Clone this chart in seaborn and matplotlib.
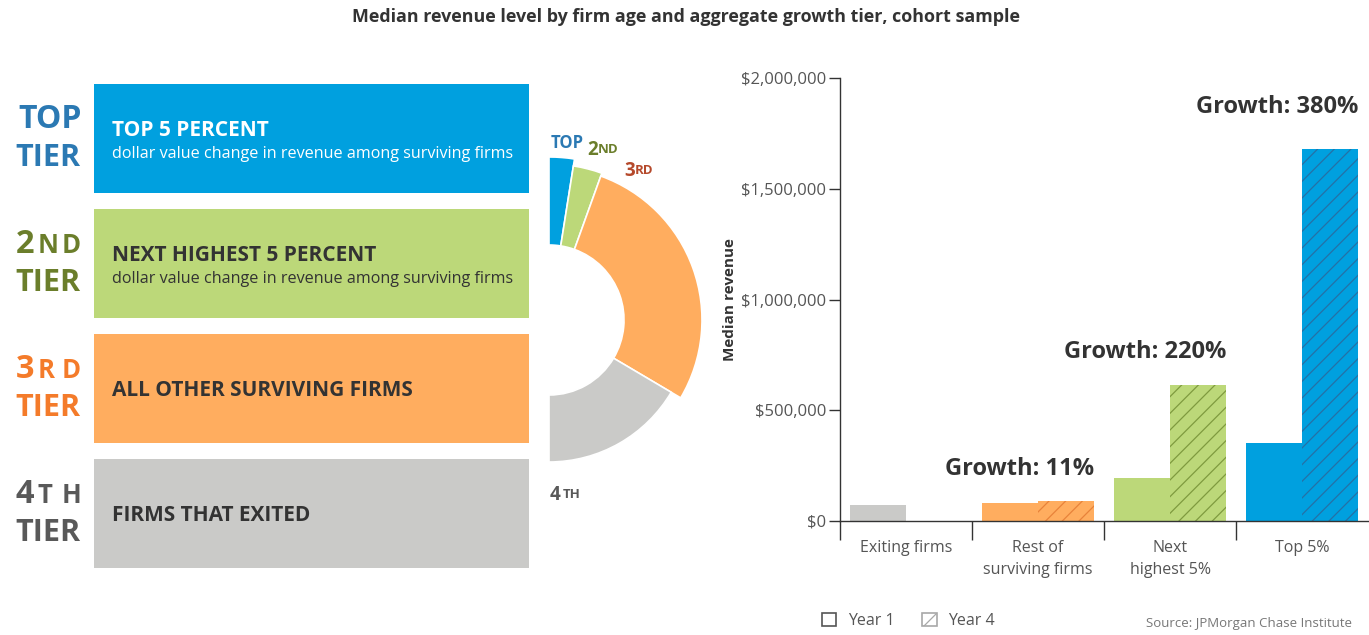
import matplotlib
matplotlib.use("Agg")
import matplotlib.pyplot as plt
from matplotlib.patches import Rectangle, Patch
import numpy as np
import pandas as pd
import seaborn as sns

# ---------------- data ----------------
title = "Median revenue level by firm age and aggregate growth tier, cohort sample"
categories = ["Exiting firms", "Rest of\nsurviving firms", "Next\nhighest 5%", "Top 5%"]
year1 = [70000, 82000, 192000, 350000]
year4 = [0, 91000, 615000, 1680000]
growth_labels = ["", "Growth: 11%", "Growth: 220%", "Growth: 380%"]
years = ["Year 1", "Year 4"]
yticks = [0, 500000, 1000000, 1500000, 2000000]
ytick_labels = ["$0", "$500,000", "$1,000,000", "$1,500,000", "$2,000,000"]

donut_labels = ["TOP", "2ND", "3RD", "4TH"]
donut_shares = [5, 6, 56, 33]

tier_main = ["TOP", "2", "3", "4"]
tier_sup = ["", "ND", "RD", "TH"]
box_titles = ["TOP 5 PERCENT", "NEXT HIGHEST 5 PERCENT", "ALL OTHER SURVIVING FIRMS", "FIRMS THAT EXITED"]
box_subs = ["dollar value change in revenue among surviving firms",
            "dollar value change in revenue among surviving firms", "", ""]
source = "Source: JPMorgan Chase Institute"

# ---------------- style ----------------
BLUE, GREEN, ORANGE, GRAY = "#00A0DF", "#BCD879", "#FFAD5F", "#CACAC8"
bar_colors = [GRAY, ORANGE, GREEN, BLUE]
hatch_colors = ["#A0A0A0", "#E8823A", "#7F9B3F", "#2571A6"]
tier_colors = ["#2B79B3", "#6B7E2B", "#F47B2A", "#595959"]
donut_text_colors = ["#2B79B3", "#6B7E2B", "#B5492B", "#595959"]
box_colors = [BLUE, GREEN, ORANGE, GRAY]
box_text_colors = ["white", "#333333", "#333333", "#333333"]
DARK = "#333333"
MID = "#555555"

sns.set_theme(style="white")
plt.rcParams["font.family"] = ["Open Sans", "DejaVu Sans"]
plt.rcParams["hatch.linewidth"] = 0.9

W, H = 1369, 635
fig = plt.figure(figsize=(W / 100, H / 100), dpi=100)

# background pixel-space axes for the infographic panel
bg = fig.add_axes([0, 0, 1, 1])
bg.set_xlim(0, W)
bg.set_ylim(H, 0)
bg.axis("off")

bg.text(686, 17, title, ha="center", va="center", fontsize=12.9, weight="bold", color=DARK)

box_tops = [84, 209, 334, 459]
box_h = 109
for i in range(4):
    top = box_tops[i]
    bg.add_patch(Rectangle((94, top), 435, box_h, facecolor=box_colors[i], edgecolor="none"))
    tc = box_text_colors[i]
    if box_subs[i]:
        bg.text(112, top + 52, box_titles[i], fontsize=15, weight="bold", color=tc, va="baseline")
        bg.text(112, top + 74, box_subs[i], fontsize=11.6, color=tc, va="baseline")
    else:
        bg.text(112, top + 62, box_titles[i], fontsize=15, weight="bold", color=tc, va="baseline")
    # tier labels
    col = tier_colors[i]
    if tier_sup[i]:
        bg.text(34, top + 44, tier_main[i], ha="right", va="baseline", fontsize=23.5,
                weight="bold", color=col)
        # letter-spaced smaller caps
        bg.text(38, top + 44, tier_sup[i][0], ha="left", va="baseline", fontsize=18.5,
                weight="bold", color=col)
        bg.text(81, top + 44, tier_sup[i][1], ha="right", va="baseline", fontsize=18.5,
                weight="bold", color=col)
    else:
        bg.text(82, top + 44, tier_main[i], ha="right", va="baseline", fontsize=23,
                weight="bold", color=col)
    bg.text(81, top + 82, "TIER", ha="right", va="baseline", fontsize=22, weight="bold", color=col)

# ---------------- donut ----------------
cx, cy, R = 549, 320, 170
dax = fig.add_axes([(cx - R) / W, 1 - (cy + R) / H, 2 * R / W, 2 * R / H])
outer_r = [163, 156, 153, 142]
inner_r = 75
vals = donut_shares + [sum(donut_shares)]
wedges, _ = dax.pie(vals, startangle=90, counterclock=False, radius=160,
                    colors=[BLUE, GREEN, ORANGE, GRAY, "none"],
                    wedgeprops=dict(width=85, edgecolor="white", linewidth=1.2))
wedges[-1].set_visible(False)
for w, r in zip(wedges[:4], outer_r):
    w.set_radius(r)
    w.set_width(r - inner_r)
dax.set_xlim(-R, R)
dax.set_ylim(-R, R)
dax.set_aspect("equal")
dax.axis("off")

# donut labels (number + smaller letters)
lab_pos = [(551, 148, 0), (587, 155, 598), (624, 176, 635), (550, 500, 563)]
for (x, yb, xs), lab, col in zip(lab_pos, donut_labels, donut_text_colors):
    if lab == "TOP":
        bg.text(x, yb, lab, fontsize=12, weight="bold", color=col, va="baseline")
    else:
        bg.text(x, yb, lab[0], fontsize=13.5, weight="bold", color=col, va="baseline")
        bg.text(xs, yb - 2, lab[1:], fontsize=9.5, weight="bold", color=col, va="baseline")

# ---------------- bar chart ----------------
df = pd.DataFrame({
    "category": categories * 2,
    "Year": [years[0]] * 4 + [years[1]] * 4,
    "revenue": year1 + year4,
})
ax = fig.add_axes([840 / W, 1 - 521 / H, (1368 - 840) / W, 443 / H])
sns.barplot(data=df, x="category", y="revenue", hue="Year", order=categories,
            hue_order=years, ax=ax, width=0.85, dodge=True, legend=False,
            saturation=1, palette=["#999999", "#999999"])
for j, cont in enumerate(ax.containers):
    for i, bar in enumerate(cont):
        bar.set_facecolor(bar_colors[i])
        bar.set_linewidth(0)
        if j == 1:
            bar.set_hatch("//")
            bar.set_edgecolor(hatch_colors[i])

ax.set_ylim(0, 2000000)
ax.set_xlim(-0.5, 3.5)
ax.set_facecolor("none")
for s in ["top", "right"]:
    ax.spines[s].set_visible(False)
for s in ["left", "bottom"]:
    ax.spines[s].set_color(DARK)
    ax.spines[s].set_linewidth(1.0)
ax.set_yticks(yticks)
ax.set_yticklabels(ytick_labels)
ax.tick_params(axis="y", which="major", direction="out", length=8, width=1, color=DARK,
               labelsize=12, labelcolor=MID, pad=2, left=True)
ax.set_xticks(range(4))
ax.set_xticklabels(categories)
ax.tick_params(axis="x", which="major", length=0, labelsize=11.5, labelcolor=MID, pad=14)
ax.set_xticks([-0.5, 0.5, 1.5, 2.5], minor=True)
ax.tick_params(axis="x", which="minor", direction="out", length=14, width=1, color=DARK, bottom=True)
for lbl in ax.get_xticklabels():
    lbl.set_linespacing(1.45)
ax.set_xlabel("")
ax.set_ylabel("Median revenue", fontsize=11, weight="bold", color=DARK)
ax.yaxis.set_label_coords(-0.196, 0.5)
ax.grid(False)

offsets = [0, 20, 21, 30]
for i, g in enumerate(growth_labels):
    if g:
        ax.annotate(g, xy=(i + 0.425, year4[i]), xytext=(0, offsets[i]), textcoords="offset pixels",
                    ha="right", va="bottom", fontsize=17, weight="bold", color=DARK)

# legend
handles = [Patch(facecolor="white", edgecolor=MID, linewidth=1.2, label=years[0]),
           Patch(facecolor="white", edgecolor="#A8A8A8", hatch="//", linewidth=1.2, label=years[1])]
fig.legend(handles=handles, loc="center left", bbox_to_anchor=(822 / W, 1 - 621 / H), ncol=2,
           frameon=False, fontsize=11.5, labelcolor=MID, handlelength=0.9, handleheight=0.9,
           handletextpad=0.75, columnspacing=1.7, borderaxespad=0, borderpad=0)

bg.text(1352, 623, source, ha="right", va="center", fontsize=9.5, color="#777777")

fig.savefig("out.png", dpi=100)
